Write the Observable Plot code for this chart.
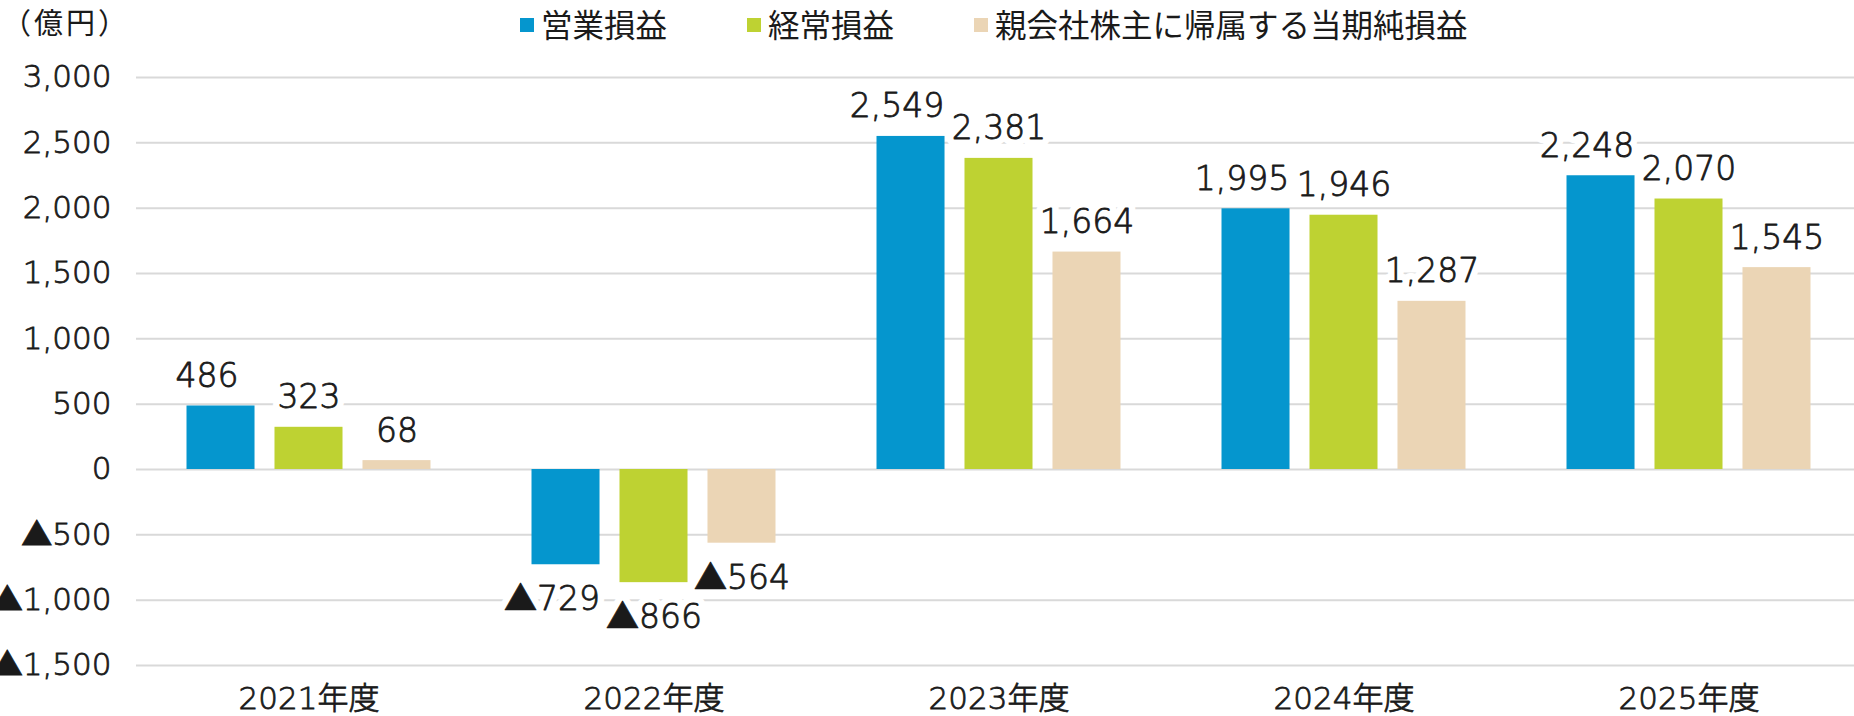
<!DOCTYPE html>
<html>
<head>
<meta charset="utf-8">
<script src="https://cdn.jsdelivr.net/npm/d3@7"></script>
<script src="https://cdn.jsdelivr.net/npm/@observablehq/plot@0.6"></script>
<style>
  html, body { margin: 0; padding: 0; background: #fff; }
  #wrap { position: relative; width: 1854px; height: 716px; overflow: hidden; }
  #unit { position: absolute; left: 2px; top: 6px; font-family: "Noto Sans CJK JP", sans-serif; font-size: 29px; letter-spacing: 3px; color: #1a1a1a; line-height: 1.1; }
  #legend { position: absolute; left: 520px; top: 8px; display: flex; gap: 80px; font-family: "Noto Sans CJK JP", sans-serif; font-size: 31.5px; color: #1a1a1a; line-height: 1; }
  #legend .item { display: flex; align-items: center; }
  #legend .sw { width: 14px; height: 14px; margin-right: 7px; margin-top: 3px; }
  #chart g[aria-label="y-axis tick label"] text,
  #chart g[aria-label="fx-axis tick label"] text { stroke: #1a1a1a; stroke-width: 0.8px; }
</style>
</head>
<body>
<div id="wrap">
  <div id="chart"></div>
  <div id="unit">（億円）</div>
  <div id="legend"></div>
</div>
<script>
const years = ["2021年度", "2022年度", "2023年度", "2024年度", "2025年度"];
const seriesNames = ["営業損益", "経常損益", "親会社株主に帰属する当期純損益"];
const seriesColors = ["#0596ce", "#bed232", "#ebd5b5"];
const operatingIncome = [486, -729, 2549, 1995, 2248];
const ordinaryIncome = [323, -866, 2381, 1946, 2070];
const netIncome = [68, -564, 1664, 1287, 1545];
const yTicks = [-1500, -1000, -500, 0, 500, 1000, 1500, 2000, 2500, 3000];

const seriesValues = [operatingIncome, ordinaryIncome, netIncome];
const data = [];
years.forEach((year, i) => {
  seriesNames.forEach((s, j) => {
    data.push({ year, series: s, value: seriesValues[j][i] });
  });
});

const comma = d3.format(",");
const fmt = v => v < 0 ? "▲" + comma(-v) : comma(v);
const numFont = '"DejaVu Sans", "Noto Sans CJK JP", sans-serif';

const common = { fx: "year", x: "series", y: "value", text: d => fmt(d.value), fontSize: 33 };
const halo = { fill: "white", stroke: "white", strokeWidth: 14, strokeLinejoin: "round" };
const ink = { fill: "#1a1a1a", stroke: "#1a1a1a", strokeWidth: 0.8 };

// label groups: first series labels nudged left a little (as in the original), others centred
const groups = [
  { rows: data.filter(d => d.series === seriesNames[0]), dx: -14 },
  { rows: data.filter(d => d.series !== seriesNames[0]), dx: 0 }
];
const labelMarks = (paint) => groups.flatMap(g => [
  Plot.text(g.rows.filter(d => d.value >= 0), { ...common, ...paint, dx: g.dx, lineAnchor: "bottom", dy: -19 }),
  Plot.text(g.rows.filter(d => d.value < 0), { ...common, ...paint, dx: g.dx, lineAnchor: "top", dy: 22 })
]);

const chart = Plot.plot({
  width: 1854,
  height: 716,
  marginLeft: 135,
  marginRight: -7,
  marginTop: 77,
  marginBottom: 51,
  style: { fontFamily: numFont, fontSize: "31px", color: "#1a1a1a", background: "white", overflow: "visible", fontWeight: 300 },
  fx: { domain: years, paddingInner: 0, paddingOuter: 0, label: null, axis: "bottom", tickSize: 0, tickPadding: 21 },
  x: { domain: seriesNames, paddingInner: 0.227, paddingOuter: 0.574, axis: null, round: false },
  y: { domain: [-1500, 3000], ticks: yTicks, tickFormat: fmt, tickSize: 0, tickPadding: 25, label: null },
  color: { domain: seriesNames, range: seriesColors },
  marks: [
    Plot.ruleY(yTicks, { stroke: "#d9d9d9", strokeWidth: 2 }),
    Plot.barY(data, { fx: "year", x: "series", y: "value", fill: "series" }),
    ...labelMarks(halo),
    ...labelMarks(ink)
  ]
});
document.getElementById("chart").appendChild(chart);

const legend = document.getElementById("legend");
seriesNames.forEach((s, i) => {
  const item = document.createElement("div");
  item.className = "item";
  const sw = document.createElement("span");
  sw.className = "sw";
  sw.style.background = seriesColors[i];
  const t = document.createElement("span");
  t.textContent = s;
  item.appendChild(sw);
  item.appendChild(t);
  legend.appendChild(item);
});
</script>
</body>
</html>
